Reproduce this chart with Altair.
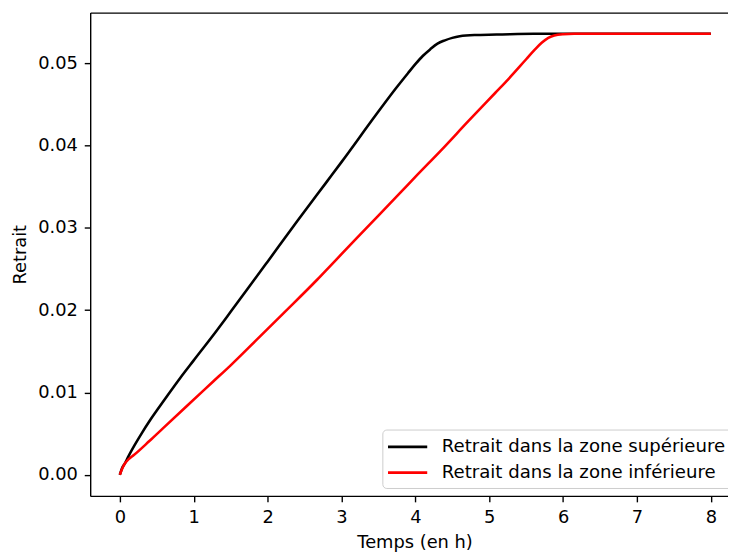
import altair as alt
import pandas as pd

# ---- data ----
series_names = ["Retrait dans la zone supérieure", "Retrait dans la zone inférieure"]
series_colors = ["#000000", "#ff0000"]

black_t = [0, 0.03, 0.07, 0.12, 0.2, 0.3, 0.4, 0.5, 0.65, 0.82, 1.0, 1.31, 1.5, 1.73, 2.0,
           2.4, 2.8, 3.0, 3.48, 3.74, 3.9, 4.0, 4.1, 4.2, 4.3, 4.4, 4.5, 4.6, 4.8, 5.1,
           5.6, 6.0, 7.0, 8.0]
black_r = [0, 0.0008, 0.0014, 0.0023, 0.0036, 0.0051, 0.0065, 0.0078, 0.0097, 0.0118, 0.0139,
           0.0175, 0.0198, 0.0226, 0.0259, 0.0308, 0.0356, 0.0380, 0.0439, 0.0470, 0.0488,
           0.0499, 0.0509, 0.0517, 0.0524, 0.0528, 0.0531, 0.0533, 0.05345, 0.0535, 0.0536,
           0.0536, 0.0536, 0.0536]

red_t = [0, 0.03, 0.07, 0.12, 0.19, 0.4, 0.59, 0.9, 1.26, 1.5, 1.84, 2.2, 2.67, 2.85, 3.2,
         3.5, 3.81, 4.0, 4.345, 4.72, 5.08, 5.26, 5.5, 5.62, 5.71, 5.8, 5.88, 6.0, 6.15,
         7.0, 8.0]
red_r = [0, 0.0007, 0.0014, 0.0019, 0.0024, 0.0041, 0.0057, 0.0083, 0.0113, 0.0133, 0.0163,
         0.0195, 0.0237, 0.0254, 0.0287, 0.0315, 0.0344, 0.0362, 0.0394, 0.0430, 0.0464,
         0.0481, 0.0505, 0.0517, 0.0525, 0.0531, 0.0534, 0.05355, 0.0536, 0.0536, 0.0536]

x_ticks = [0, 1, 2, 3, 4, 5, 6, 7, 8]
y_ticks = [0.0, 0.01, 0.02, 0.03, 0.04, 0.05]

df = pd.concat([
    pd.DataFrame({"t": black_t, "r": black_r, "s": series_names[0], "k": 0}),
    pd.DataFrame({"t": red_t, "r": red_r, "s": series_names[1], "k": 1}),
], ignore_index=True)

FONT = "DejaVu Sans"
xscale = alt.Scale(domain=[-0.401, 8.232], nice=False, zero=False)
yscale = alt.Scale(domain=[-0.00257, 0.05617], nice=False, zero=False)

lines = alt.Chart(df).mark_line(strokeWidth=2.6, interpolate="monotone").encode(
    x=alt.X("t:Q", scale=xscale,
            axis=alt.Axis(values=x_ticks, format="d", title="Temps (en h)",
                          titleX=327.5, titlePadding=7.5, labelPadding=7, grid=False)),
    y=alt.Y("r:Q", scale=yscale,
            axis=alt.Axis(values=y_ticks, format=".2f", title="Retrait",
                          titlePadding=8, labelPadding=7, grid=False)),
    color=alt.Color("s:N", scale=alt.Scale(domain=series_names, range=series_colors),
                    sort=series_names,
                    legend=alt.Legend(title=None, orient="none", legendX=295, legendY=421,
                                      symbolType="M-2.2,0H2.2", symbolSize=324,
                                      symbolStrokeWidth=2.6, symbolOffset=8,
                                      labelOffset=24, labelLimit=500, labelFontSize=18.3,
                                      labelFont=FONT, labelColor="#000000",
                                      rowPadding=7, padding=7, cornerRadius=4,
                                      strokeColor="#cccccc", fillColor="rgba(255,255,255,0.8)")),
    detail="k:N",
)

top = alt.Chart(df).mark_line(opacity=0).encode(
    x=alt.X("t:Q", scale=xscale,
            axis=alt.Axis(orient="top", labels=False, ticks=False, title=None, grid=False)),
    y=alt.Y("r:Q", scale=yscale, axis=None),
)

chart = alt.layer(lines, top).resolve_axis(x="independent", y="independent").properties(
    width=644, height=488,
    autosize=alt.AutoSizeParams(type="none"),
    padding={"left": 83, "top": 2, "right": 0, "bottom": 56},
    background="white",
).configure_view(stroke=None).configure_axis(
    domainColor="#000000", domainWidth=1.4, tickColor="#000000", tickWidth=1.4,
    tickSize=6, labelFont=FONT, labelFontSize=18, labelColor="#000000",
    titleFont=FONT, titleFontSize=18, titleFontWeight="normal", titleColor="#000000",
)

chart.save("out.html", embed_options={"renderer": "svg", "actions": False})
